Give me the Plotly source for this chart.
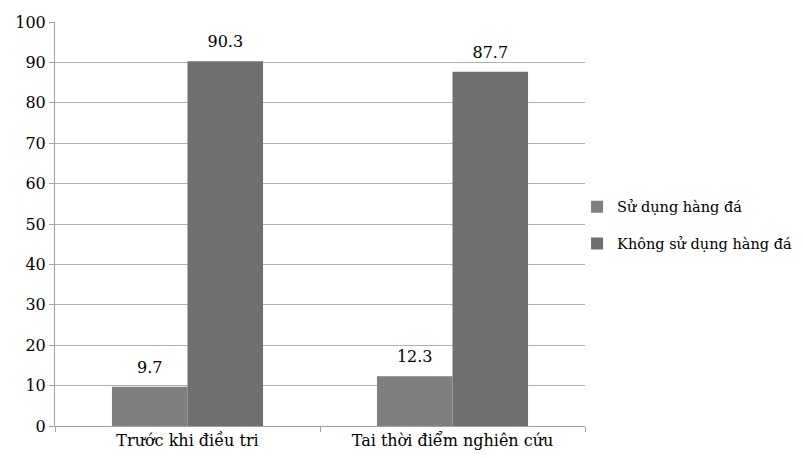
import plotly.graph_objects as go

categories = ["Trước khi điều tri", "Tai thời điểm nghiên cứu"]
series_names = ["Sử dụng hàng đá", "Không sử dụng hàng đá"]
su_dung = [9.7, 12.3]
khong_su_dung = [90.3, 87.7]
y_ticks = [0, 10, 20, 30, 40, 50, 60, 70, 80, 90, 100]

colors = ["#7f7f7f", "#6f6f6f"]
FONT = "DejaVu Serif"

fig = go.Figure()
for i, (name, vals, col) in enumerate(zip(series_names, [su_dung, khong_su_dung], colors)):
    fig.add_trace(go.Bar(
        x=categories, y=vals, name=name, legendgroup=f"g{i}",
        marker=dict(color=col, line=dict(width=0)),
        text=[f"<span style='font-size:16px'>{v:.1f}</span><br> " for v in vals],
        textposition="outside",
        textfont=dict(family=FONT, size=7, color="#000000"),
        cliponaxis=False,
    ))

fig.update_layout(
    width=803, height=458,
    margin=dict(l=55, r=218, t=22, b=32, autoexpand=False),
    barmode="group", bargap=0.43, bargroupgap=0,
    plot_bgcolor="white", paper_bgcolor="white",
    font=dict(family=FONT, size=16, color="#000000"),
    showlegend=True,
    legend=dict(x=0.985, xanchor="left", y=0.497, yanchor="middle",
                font=dict(family=FONT, size=14.5, color="#000000"),
                tracegroupgap=15, itemwidth=30, bgcolor="rgba(0,0,0,0)"),
)
fig.update_xaxes(
    showline=True, linecolor="#a0a0a0", linewidth=1,
    ticks="outside", tickson="boundaries", ticklen=5, tickcolor="#a0a0a0",
    showgrid=False, tickfont=dict(family=FONT, size=16),
)
fig.update_yaxes(
    range=[0, 100], tickvals=y_ticks,
    showline=True, linecolor="#a0a0a0", linewidth=1,
    ticks="outside", ticklen=5, tickcolor="#a0a0a0",
    showgrid=True, gridcolor="#b0b0b0", gridwidth=1,
    zeroline=False, tickfont=dict(family=FONT, size=16),
)

fig.write_html("out.html")
